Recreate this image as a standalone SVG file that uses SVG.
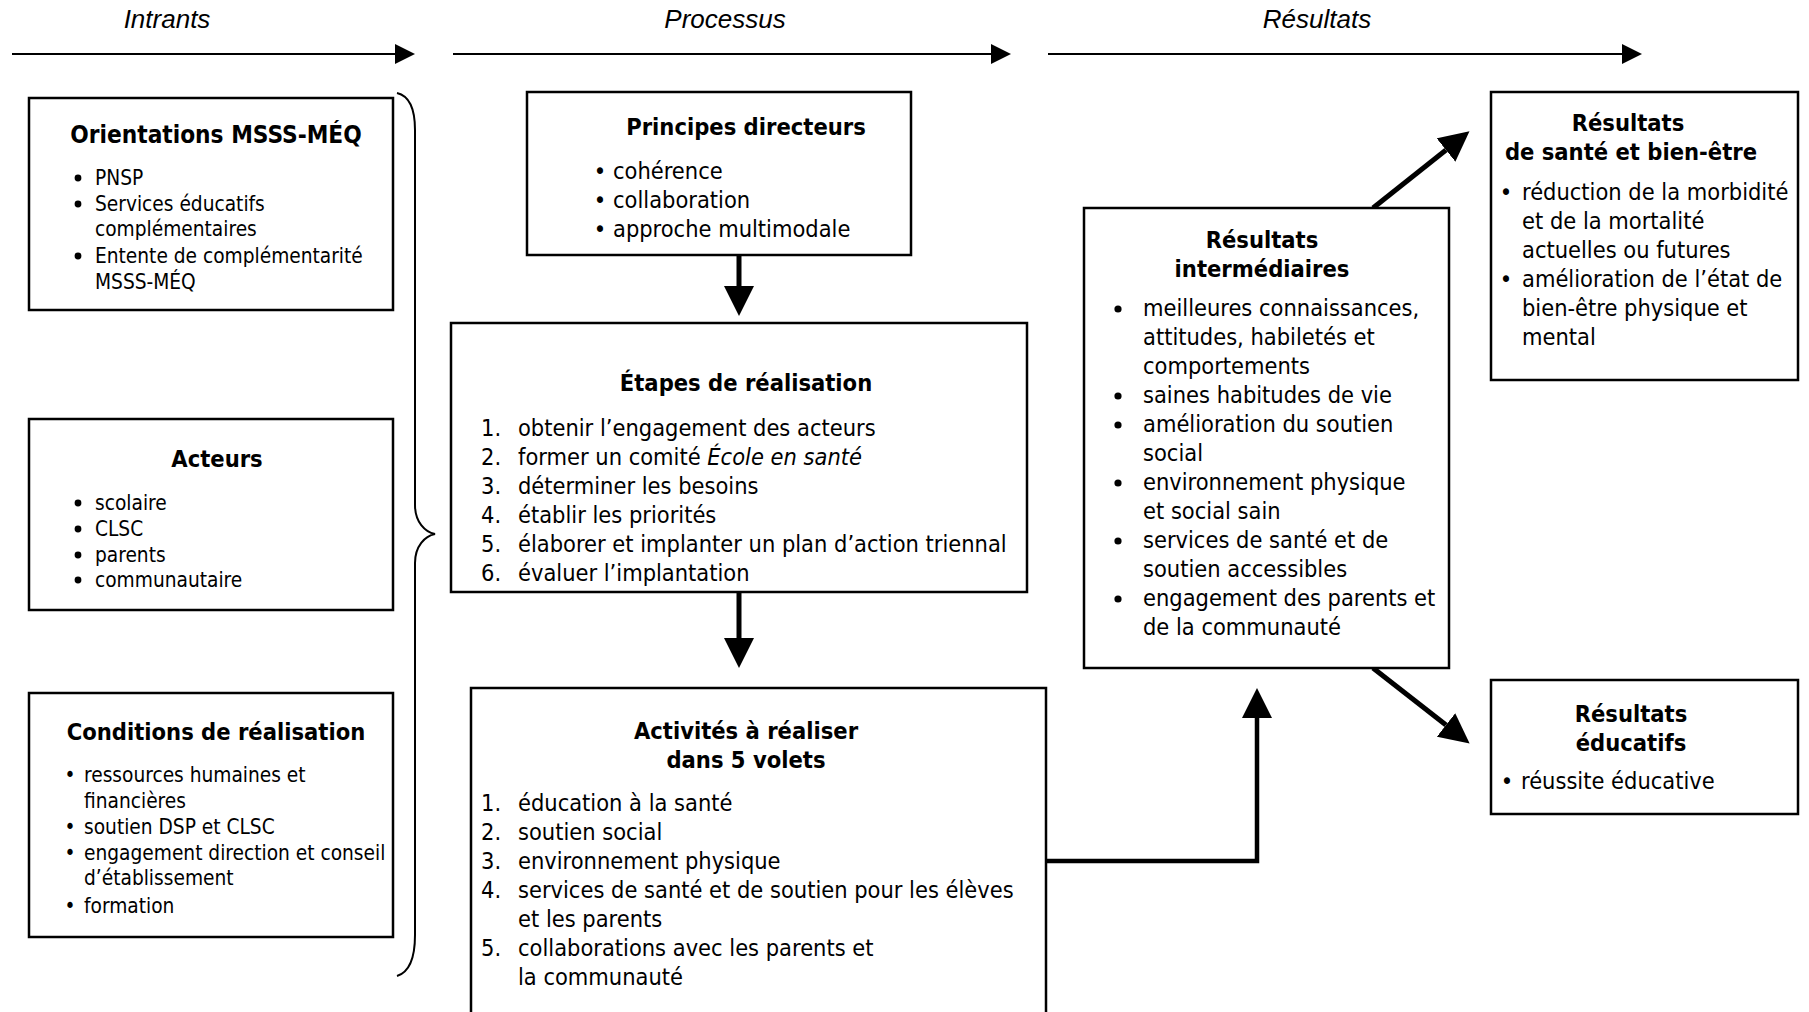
<svg xmlns="http://www.w3.org/2000/svg" width="1809" height="1012" viewBox="0 0 1809 1012">
<defs>
<style>
.box{fill:#fff;stroke:#000;stroke-width:2.5}
.hd{font-family:"Liberation Sans",Arial,sans-serif;font-style:italic;font-size:26px;fill:#000;text-anchor:middle}
.t{font-family:"DejaVu Sans Condensed","DejaVu Sans",sans-serif;font-stretch:condensed;font-weight:bold;font-size:23.5px;fill:#000;text-anchor:middle}
.b{font-family:"DejaVu Sans Condensed","DejaVu Sans",sans-serif;font-stretch:condensed;font-size:23.4px;fill:#000}
.bl{font-family:"DejaVu Sans Condensed","DejaVu Sans",sans-serif;font-stretch:condensed;font-size:20.7px;fill:#000}
.dot{text-anchor:middle}
.bul{fill:#000}
.thin{stroke:#000;stroke-width:2;fill:none}
.thick{stroke:#000;stroke-width:5;fill:none}
.med{stroke:#000;stroke-width:4.5;fill:none}
</style>
<marker id="ah" viewBox="0 0 20 20" refX="0" refY="10" markerWidth="20" markerHeight="20" markerUnits="userSpaceOnUse" orient="auto">
<path d="M0,0 L20,10 L0,20 z" fill="#000"/>
</marker>
<marker id="ahb" viewBox="0 0 30 30" refX="0" refY="15" markerWidth="30" markerHeight="30" markerUnits="userSpaceOnUse" orient="auto">
<path d="M0,0 L30,15 L0,30 z" fill="#000"/>
</marker>
</defs>
<rect width="1809" height="1012" fill="#fff"/>

<g id="headers">
<text class="hd" x="167" y="28">Intrants</text>
<text class="hd" x="725" y="28">Processus</text>
<text class="hd" x="1317" y="28">Résultats</text>
</g>

<g id="connectors">
<path class="thin" d="M12,54 L395,54" marker-end="url(#ah)"/>
<path class="thin" d="M453,54 L991,54" marker-end="url(#ah)"/>
<path class="thin" d="M1048,54 L1622,54" marker-end="url(#ah)"/>
<path class="thin" d="M397,93 C410,96 415,110 415,130 L415,505 C415,522 425,532 435,534 C425,536 415,546 415,563 L415,935 C415,958 410,972 397,976"/>
<path class="thick" d="M739,256 L739,286" marker-end="url(#ahb)"/>
<path class="thick" d="M739,592 L739,638" marker-end="url(#ahb)"/>
<path class="med" d="M1046,861 L1257,861 L1257,718" marker-end="url(#ahb)"/>
<path class="thick" d="M1373,208 L1446,150" marker-end="url(#ahb)"/>
<path class="thick" d="M1373,668 L1446,725" marker-end="url(#ahb)"/>
</g>

<g id="orientations">
<rect class="box" x="29" y="98" width="364" height="212"/>
<text class="t" x="216" y="143" style="font-size:24.2px">Orientations MSSS-MÉQ</text>
<circle class="bul" cx="78" cy="178" r="3.4"/>
<text class="bl" x="95" y="185">PNSP</text>
<circle class="bul" cx="78" cy="204" r="3.4"/>
<text class="bl" x="95" y="211">Services éducatifs</text>
<text class="bl" x="95" y="236">complémentaires</text>
<circle class="bul" cx="78" cy="256" r="3.4"/>
<text class="bl" x="95" y="263">Entente de complémentarité</text>
<text class="bl" x="95" y="289">MSSS-MÉQ</text>
</g>

<g id="acteurs">
<rect class="box" x="29" y="419" width="364" height="191"/>
<text class="t" x="217" y="467">Acteurs</text>
<circle class="bul" cx="78" cy="503" r="3.4"/>
<text class="bl" x="95" y="510">scolaire</text>
<circle class="bul" cx="78" cy="529" r="3.4"/>
<text class="bl" x="95" y="536">CLSC</text>
<circle class="bul" cx="78" cy="555" r="3.4"/>
<text class="bl" x="95" y="562">parents</text>
<circle class="bul" cx="78" cy="580" r="3.4"/>
<text class="bl" x="95" y="587">communautaire</text>
</g>

<g id="conditions">
<rect class="box" x="29" y="693" width="364" height="244"/>
<text class="t" x="216" y="740">Conditions de réalisation</text>
<text class="bl dot" x="70" y="782">•</text>
<text class="bl" x="84" y="782">ressources humaines et</text>
<text class="bl" x="84" y="808">financières</text>
<text class="bl dot" x="70" y="834">•</text>
<text class="bl" x="84" y="834">soutien DSP et CLSC</text>
<text class="bl dot" x="70" y="860">•</text>
<text class="bl" x="84" y="860">engagement direction et conseil</text>
<text class="bl" x="84" y="885">d’établissement</text>
<text class="bl dot" x="70" y="913">•</text>
<text class="bl" x="84" y="913">formation</text>
</g>

<g id="principes">
<rect class="box" x="527" y="92" width="384" height="163"/>
<text class="t" x="746" y="135">Principes directeurs</text>
<text class="b dot" x="600" y="179">•</text>
<text class="b" x="613" y="179">cohérence</text>
<text class="b dot" x="600" y="208">•</text>
<text class="b" x="613" y="208">collaboration</text>
<text class="b dot" x="600" y="237">•</text>
<text class="b" x="613" y="237">approche multimodale</text>
</g>

<g id="etapes">
<rect class="box" x="451" y="323" width="576" height="269"/>
<text class="t" x="746" y="391">Étapes de réalisation</text>
<text class="b" x="481" y="436">1.</text>
<text class="b" x="518" y="436">obtenir l’engagement des acteurs</text>
<text class="b" x="481" y="465">2.</text>
<text class="b" x="518" y="465">former un comité <tspan font-style="italic">École en santé</tspan></text>
<text class="b" x="481" y="494">3.</text>
<text class="b" x="518" y="494">déterminer les besoins</text>
<text class="b" x="481" y="523">4.</text>
<text class="b" x="518" y="523">établir les priorités</text>
<text class="b" x="481" y="552">5.</text>
<text class="b" x="518" y="552">élaborer et implanter un plan d’action triennal</text>
<text class="b" x="481" y="581">6.</text>
<text class="b" x="518" y="581">évaluer l’implantation</text>
</g>

<g id="activites">
<rect class="box" x="471" y="688" width="575" height="340"/>
<text class="t" x="746" y="739">Activités à réaliser</text>
<text class="t" x="746" y="768">dans 5 volets</text>
<text class="b" x="481" y="811">1.</text>
<text class="b" x="518" y="811">éducation à la santé</text>
<text class="b" x="481" y="840">2.</text>
<text class="b" x="518" y="840">soutien social</text>
<text class="b" x="481" y="869">3.</text>
<text class="b" x="518" y="869">environnement physique</text>
<text class="b" x="481" y="898">4.</text>
<text class="b" x="518" y="898">services de santé et de soutien pour les élèves</text>
<text class="b" x="518" y="927">et les parents</text>
<text class="b" x="481" y="956">5.</text>
<text class="b" x="518" y="956">collaborations avec les parents et</text>
<text class="b" x="518" y="985">la communauté</text>
</g>

<g id="intermediaires">
<rect class="box" x="1084" y="208" width="365" height="460"/>
<text class="t" x="1262" y="248">Résultats</text>
<text class="t" x="1262" y="277">intermédiaires</text>
<circle class="bul" cx="1118" cy="309" r="3.6"/>
<text class="b" x="1143" y="316">meilleures connaissances,</text>
<text class="b" x="1143" y="345">attitudes, habiletés et</text>
<text class="b" x="1143" y="374">comportements</text>
<circle class="bul" cx="1118" cy="396" r="3.6"/>
<text class="b" x="1143" y="403">saines habitudes de vie</text>
<circle class="bul" cx="1118" cy="425" r="3.6"/>
<text class="b" x="1143" y="432">amélioration du soutien</text>
<text class="b" x="1143" y="461">social</text>
<circle class="bul" cx="1118" cy="483" r="3.6"/>
<text class="b" x="1143" y="490">environnement physique</text>
<text class="b" x="1143" y="519">et social sain</text>
<circle class="bul" cx="1118" cy="541" r="3.6"/>
<text class="b" x="1143" y="548">services de santé et de</text>
<text class="b" x="1143" y="577">soutien accessibles</text>
<circle class="bul" cx="1118" cy="599" r="3.6"/>
<text class="b" x="1143" y="606">engagement des parents et</text>
<text class="b" x="1143" y="635">de la communauté</text>
</g>

<g id="sante">
<rect class="box" x="1491" y="92" width="307" height="288"/>
<text class="t" x="1628" y="131">Résultats</text>
<text class="t" x="1631" y="160">de santé et bien-être</text>
<text class="b dot" x="1506" y="200">•</text>
<text class="b" x="1522" y="200">réduction de la morbidité</text>
<text class="b" x="1522" y="229">et de la mortalité</text>
<text class="b" x="1522" y="258">actuelles ou futures</text>
<text class="b dot" x="1506" y="287">•</text>
<text class="b" x="1522" y="287">amélioration de l’état de</text>
<text class="b" x="1522" y="316">bien-être physique et</text>
<text class="b" x="1522" y="345">mental</text>
</g>

<g id="educatifs">
<rect class="box" x="1491" y="680" width="307" height="134"/>
<text class="t" x="1631" y="722">Résultats</text>
<text class="t" x="1631" y="751">éducatifs</text>
<text class="b dot" x="1507" y="789">•</text>
<text class="b" x="1521" y="789">réussite éducative</text>
</g>
</svg>
